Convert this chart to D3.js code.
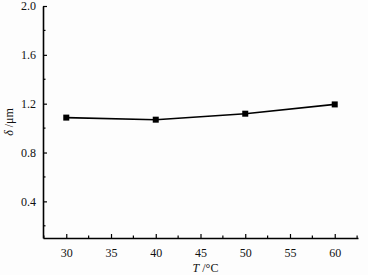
<!DOCTYPE html>
<html>
<head>
<meta charset="utf-8">
<script src="https://cdn.jsdelivr.net/npm/d3@7"></script>
<style>
  body { margin: 0; background: #fdfdfd; }
  svg text { font-family: "Liberation Serif", "DejaVu Serif", serif !important; fill: #111; }
</style>
</head>
<body>
<div id="d3"></div>
<script>
// data
const temps = [30, 40, 50, 60];
const delta = [1.086, 1.069, 1.118, 1.194];
const xTicks = [30, 35, 40, 45, 50, 55, 60];
const yTicks = [0.4, 0.8, 1.2, 1.6, 2.0];

const margin = { top: 6, right: 10, bottom: 37, left: 43 },
  width = 368 - margin.left - margin.right,
  height = 275 - margin.top - margin.bottom;

const serif = "Liberation Serif, DejaVu Serif, serif";

const svg = d3
  .select("#d3")
  .append("svg")
  .attr("width", width + margin.left + margin.right)
  .attr("height", height + margin.top + margin.bottom)
  .append("g")
  .attr("transform", `translate(${margin.left},${margin.top})`);

const x = d3.scaleLinear().domain([27.4, 62.6]).range([0, width]);
const y = d3.scaleLinear().domain([0.1, 2.0]).range([height, 0]);

// minor ticks
const xMinor = d3.range(27.5, 62.6, 2.5).filter((v) => !xTicks.includes(v));
const yMinor = d3.range(0.2, 2.0, 0.4);

svg
  .append("g")
  .selectAll("line")
  .data(xMinor)
  .join("line")
  .attr("x1", (d) => x(d))
  .attr("x2", (d) => x(d))
  .attr("y1", height)
  .attr("y2", height - 2.5)
  .attr("stroke", "#000")
  .attr("stroke-width", 1.2);

svg
  .append("g")
  .selectAll("line")
  .data(yMinor)
  .join("line")
  .attr("x1", 0)
  .attr("x2", 2.5)
  .attr("y1", (d) => y(d))
  .attr("y2", (d) => y(d))
  .attr("stroke", "#000")
  .attr("stroke-width", 1.2);

// X axis
const xAxis = svg
  .append("g")
  .attr("transform", `translate(0, ${height})`)
  .attr("font-family", serif)
  .call(d3.axisBottom(x).tickValues(xTicks).tickSize(-4).tickSizeOuter(0).tickPadding(10));
xAxis.attr("font-family", serif).attr("font-size", 12);
xAxis.select(".domain").attr("stroke-width", 1.6);
xAxis.selectAll(".tick line").attr("stroke-width", 1.2);
xAxis.selectAll("text").attr("fill", "#111");

// Y axis
const yAxis = svg
  .append("g")
  .call(d3.axisLeft(y).tickValues(yTicks).tickFormat(d3.format(".1f")).tickSize(-4).tickSizeOuter(0).tickPadding(7));
yAxis.attr("font-family", serif).attr("font-size", 12);
yAxis.select(".domain").attr("stroke-width", 1.6);
yAxis.selectAll(".tick line").attr("stroke-width", 1.2);
yAxis.selectAll("text").attr("fill", "#111");

// line
const pts = temps.map((t, i) => [t, delta[i]]);
svg
  .append("path")
  .datum(pts)
  .attr("fill", "none")
  .attr("stroke", "#000")
  .attr("stroke-width", 1.6)
  .attr("d", d3.line().x((d) => x(d[0])).y((d) => y(d[1])));

svg
  .selectAll("rect.pt")
  .data(pts)
  .join("rect")
  .attr("class", "pt")
  .attr("x", (d) => x(d[0]) - 3)
  .attr("y", (d) => y(d[1]) - 3)
  .attr("width", 6)
  .attr("height", 6)
  .attr("fill", "#000");

// axis labels
const xl = svg
  .append("text")
  .attr("x", width / 2 + 5)
  .attr("y", height + 34)
  .attr("text-anchor", "middle")
  .attr("font-family", serif)
  .attr("font-size", 12);
xl.append("tspan").attr("font-style", "italic").text("T");
xl.append("tspan").text(" /°C");

const yl = svg
  .append("text")
  .attr("transform", `translate(${-30}, ${y(1.05)}) rotate(-90)`)
  .attr("text-anchor", "middle")
  .attr("font-family", serif)
  .attr("font-size", 12);
yl.append("tspan").attr("font-style", "italic").text("δ");
yl.append("tspan").text(" /μm");
</script>
</body>
</html>
